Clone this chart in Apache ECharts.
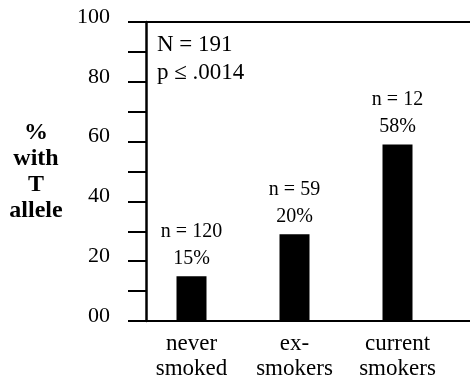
<!DOCTYPE html>
<html><head><meta charset="utf-8">
<script src="https://cdn.jsdelivr.net/npm/echarts@6/dist/echarts.min.js"></script>
<style>html,body{margin:0;padding:0;background:#fff}#c{width:470px;height:383px}</style>
</head><body><div id="c"></div>
<script>
var categories = ['never\nsmoked', 'ex-\nsmokers', 'current\nsmokers'];
var values = [15, 29, 59];
var nLabels = ['n = 120', 'n = 59', 'n = 12'];
var pctLabels = ['15%', '20%', '58%'];
var yTicks = [0, 20, 40, 60, 80, 100];
var yTickLabels = ['00', '20', '40', '60', '80', '100'];
var annotation = ['N = 191', 'p \u2264 .0014'];
var yTitle = ['%', 'with', 'T', 'allele'];

var FONT = '"Liberation Serif", "Times New Roman", serif';
var chart = echarts.init(document.getElementById('c'), null, {renderer: 'canvas'});
chart.setOption({
  animation: false,
  backgroundColor: '#fff',
  title: {
    text: annotation.join('\n'),
    left: 157, top: 31, padding: 0,
    textStyle: {fontFamily: FONT, fontWeight: 'normal', fontSize: 23, lineHeight: 28, color: '#000'}
  },
  grid: [
    {left: 146, right: 0, top: 22, bottom: 62},
    {left: 140, right: 21, top: 22, bottom: 62}
  ],
  xAxis: [
    {gridIndex: 0, type: 'value', min: 0, max: 1, position: 'bottom',
     axisLine: {show: true, lineStyle: {color: '#000', width: 2}},
     axisTick: {show: false}, axisLabel: {show: false}, splitLine: {show: false}},
    {gridIndex: 0, type: 'value', min: 0, max: 1, position: 'top',
     axisLine: {show: true, lineStyle: {color: '#000', width: 2}},
     axisTick: {show: false}, axisLabel: {show: false}, splitLine: {show: false}},
    {gridIndex: 1, type: 'category', data: categories, position: 'bottom',
     axisLine: {show: false}, axisTick: {show: false}, splitLine: {show: false},
     axisLabel: {fontFamily: FONT, fontSize: 23, lineHeight: 25, color: '#000', margin: 10, interval: 0}}
  ],
  yAxis: [
    {gridIndex: 0, type: 'value', min: 0, max: 100, interval: 10,
     name: yTitle.join('\n'), nameLocation: 'middle', nameRotate: 0, nameGap: 110,
     nameTextStyle: {fontFamily: FONT, fontWeight: 'bold', fontSize: 24, lineHeight: 26, color: '#000', align: 'center', verticalAlign: 'middle'},
     axisLine: {show: true, lineStyle: {color: '#000', width: 2.5}},
     axisTick: {show: true, length: 18, lineStyle: {color: '#000', width: 2}},
     splitLine: {show: false},
     axisLabel: {fontFamily: FONT, fontSize: 22, color: '#000', margin: 36,
       verticalAlign: 'bottom', lineHeight: 10,
       formatter: function (v) { var i = yTicks.indexOf(v); return i >= 0 ? yTickLabels[i] : ''; }}},
    {gridIndex: 1, type: 'value', min: 0, max: 100, show: false}
  ],
  series: [{
    type: 'bar', xAxisIndex: 2, yAxisIndex: 1,
    data: values, barWidth: 30,
    itemStyle: {color: '#000'},
    label: {show: true, position: 'top', distance: 4, color: '#000',
      fontFamily: FONT, fontSize: 20, lineHeight: 27,
      formatter: function (p) { return nLabels[p.dataIndex] + '\n' + pctLabels[p.dataIndex]; }}
  }]
});
</script></body></html>
